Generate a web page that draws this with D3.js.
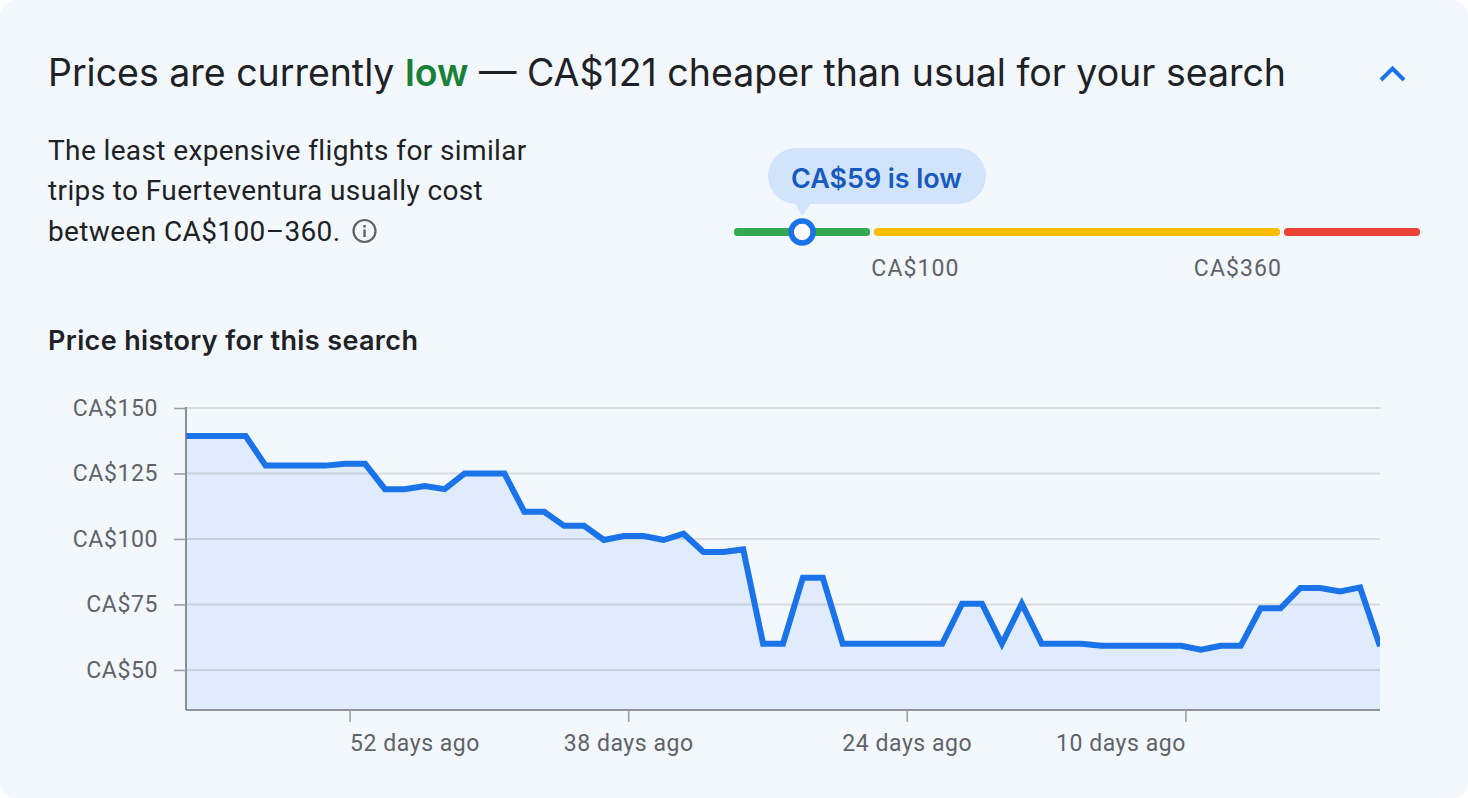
<!DOCTYPE html>
<html><head><meta charset="utf-8">
<script src="https://cdn.jsdelivr.net/npm/d3@7/dist/d3.min.js"></script>
<style>html,body{margin:0;padding:0;background:#fff;overflow:hidden}svg{display:block}text{font-family:Roboto,sans-serif}</style>
</head><body><div id="c"></div>
<script>
const prices=[139.3,139.3,139.3,139.3,128,128,128,128,128.7,128.7,119,119,120.2,119,125,125,125,110.4,110.4,105,105,99.6,101.1,101.1,99.6,102,95,95,96,60,60,85.2,85.2,60,60,60,60,60,60,75.3,75.3,60,75.3,60,60,60,59.2,59.2,59.2,59.2,59.2,57.7,59.2,59.2,73.5,73.5,81.3,81.3,80,81.5,59];
const dayOffset=0.22;
const yTicks=[150,125,100,75,50];
const xTicks=[52,38,24,10];
const xAnchors=["start","middle","middle","end"];
const rangeSegments=[{from:19,to:100,color:"#34a853"},{from:100,to:360,color:"#fbbc04"},{from:360,to:460,color:"#ea4335"}];
const rangeLabels=[100,360];
const currentPrice=59;
const bodyLines=["The least expensive flights for similar","trips to Fuerteventura usually cost","between CA$100–360."];

const W=1468,H=798;
const svg=d3.select("#c").append("svg").attr("width",W).attr("height",H);
svg.append("rect").attr("x",0).attr("y",0).attr("width",W).attr("height",H).attr("rx",16).attr("fill","#f3f8ff");

// heading
const t=svg.append("text").attr("x",48).attr("y",85.5).attr("font-size",37.5).attr("fill","#202124").style("font-family","Inter").attr("textLength",1238).attr("lengthAdjust","spacing");
t.append("tspan").text("Prices are currently ");
t.append("tspan").attr("fill","#188038").attr("font-weight",600).text("low");
t.append("tspan").text(" — CA$121 cheaper than usual for your search");
svg.append("path").attr("d",d3.line()([[1381,80],[1392.5,68.5],[1404,80]])).attr("fill","none").attr("stroke","#1a73e8").attr("stroke-width",4);

// body
svg.append("g").selectAll("text").data(bodyLines).join("text").attr("x",48).attr("y",(d,i)=>159.5+i*40.5).attr("font-size",28).attr("fill","#202124").attr("letter-spacing",0.38).text(d=>d);
const info=svg.append("g").attr("transform","translate(364.5,231)");
info.append("circle").attr("r",11).attr("fill","none").attr("stroke","#5f6368").attr("stroke-width",2.2);
info.append("rect").attr("x",-1.2).attr("y",-1.5).attr("width",2.4).attr("height",7.5).attr("fill","#5f6368");
info.append("rect").attr("x",-1.2).attr("y",-6).attr("width",2.4).attr("height",2.6).attr("fill","#5f6368");

// range bar
const rx=d3.scaleLinear().domain([19,100]).range([734,872]);
const rx2=d3.scaleLinear().domain([100,360]).range([872,1282]);
const rx3=d3.scaleLinear().domain([360,460]).range([1282,1420]);
const rScale=v=>v<=100?rx(v):v<=360?rx2(v):rx3(v);
svg.append("g").selectAll("rect").data(rangeSegments).join("rect")
 .attr("x",(d,i)=>rScale(d.from)+(i?2:0)).attr("y",228).attr("height",8).attr("rx",3.5)
 .attr("width",(d,i)=>rScale(d.to)-rScale(d.from)-(i==2?2:(i?4:2))).attr("fill",d=>d.color);
svg.append("g").selectAll("text").data(rangeLabels).join("text").attr("x",d=>rScale(d)+(d==100?43.5:-44)).attr("y",276).attr("text-anchor","middle").attr("font-size",23).attr("fill","#5f6368").attr("letter-spacing",1.1).text(d=>"CA$"+d);
const mx=rScale(currentPrice);
svg.append("path").attr("d",`M${mx-7} 203 L${mx} 216 L${mx+9} 203 Z`).attr("fill","#d2e3fc");
svg.append("rect").attr("x",768).attr("y",148).attr("width",218).attr("height",56).attr("rx",28).attr("fill","#d2e3fc");
svg.append("text").attr("x",791).attr("y",188).attr("font-size",27).attr("font-weight",600).attr("fill","#185abc").style("font-family","Inter").attr("textLength",171).text(`CA$${currentPrice} is low`);
svg.append("circle").attr("cx",mx).attr("cy",232).attr("r",11).attr("fill","#fff").attr("stroke","#1a73e8").attr("stroke-width",5.5);

svg.append("text").attr("x",48).attr("y",350).attr("font-size",27).attr("font-weight",600).attr("fill","#202124").style("font-family","Inter").attr("textLength",370).text("Price history for this search");

// chart
const M={l:186,r:1380,t:408,b:710};
const x=d3.scaleLinear().domain([60+dayOffset,dayOffset]).range([M.l,M.r]);
const y=d3.scaleLinear().domain([150,34.7]).range([M.t,M.b]);
const days=i=>60+dayOffset-i;

svg.append("g").selectAll("line").data(yTicks).join("line").attr("x1",M.l).attr("x2",M.r).attr("y1",d=>y(d)).attr("y2",d=>y(d)).attr("stroke","#d9dbdf").attr("stroke-width",2);
const area=d3.area().x((d,i)=>x(days(i))).y0(M.b).y1(d=>y(d));
const line=d3.line().x((d,i)=>x(days(i))).y(d=>y(d));
svg.append("path").attr("d",area(prices)).attr("fill","#1a73e8").attr("fill-opacity",0.085);
svg.append("clipPath").attr("id","pc").append("rect").attr("x",M.l).attr("y",M.t).attr("width",M.r-M.l).attr("height",M.b-M.t);
svg.append("path").attr("d",line(prices)).attr("fill","none").attr("stroke","#1a73e8").attr("stroke-width",6).attr("stroke-linejoin","miter").attr("clip-path","url(#pc)");

const yAxis=svg.append("g").attr("transform",`translate(${M.l},0)`).call(d3.axisLeft(y).tickValues(yTicks).tickSize(12).tickPadding(16).tickFormat(d=>"CA$"+d));
yAxis.select(".domain").attr("d",`M0 ${M.t-1}V${M.b}`).attr("stroke","#70757a").attr("stroke-width",1.6);
yAxis.selectAll(".tick line").attr("stroke","#9aa0a6").attr("stroke-width",1.6);
yAxis.selectAll("text").attr("font-family","Roboto").attr("font-size",23).attr("fill","#5f6368").attr("letter-spacing",0.6);

const xAxis=svg.append("g").attr("transform",`translate(0,${M.b})`).call(d3.axisBottom(x).tickValues(xTicks).tickSize(12).tickPadding(13).tickFormat(d=>d+" days ago"));
xAxis.select(".domain").attr("d",`M${M.l} 0H${M.r}`).attr("stroke","#70757a").attr("stroke-width",1.6);
xAxis.selectAll(".tick line").attr("stroke","#9aa0a6").attr("stroke-width",1.6);
xAxis.selectAll("text").attr("font-family","Roboto").attr("font-size",23).attr("fill","#5f6368").attr("letter-spacing",0.55).attr("text-anchor",(d,i)=>xAnchors[i]);
</script></body></html>
